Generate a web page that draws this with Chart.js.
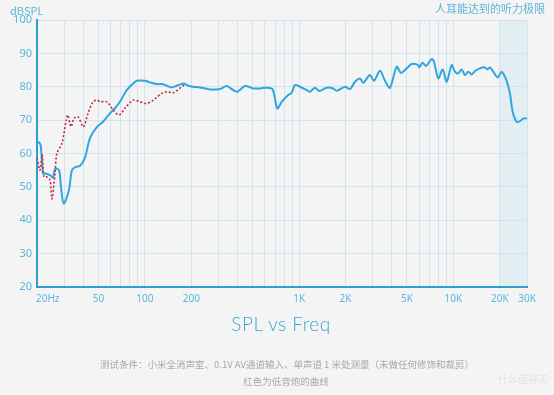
<!DOCTYPE html>
<html>
<head>
<meta charset="utf-8">
<script src="https://cdn.jsdelivr.net/npm/chart.js@4.4.0/dist/chart.umd.min.js"></script>
<style>
  html, body { margin: 0; padding: 0; background: #f4f4f4; }
  #wrap { position: relative; width: 554px; height: 395px; overflow: hidden; font-family: "Noto Sans CJK SC", "Noto Sans", sans-serif; }
  canvas { position: absolute; left: 0; top: 0; }
  .txt { position: absolute; white-space: nowrap; }
</style>
</head>
<body>
<div id="wrap">
  <canvas id="spl" width="554" height="395"></canvas>
  <div class="txt" style="left:10px;top:2px;font-size:11px;color:#5db6d9;">dBSPL</div>
  <div class="txt" style="right:9px;top:0px;font-size:11px;color:#5db6d9;">人耳能达到的听力极限</div>
  <div class="txt" style="left:0;width:562px;text-align:center;top:312px;font-size:19px;color:#3ba5d0;font-family:Lato,'Noto Sans',sans-serif;font-weight:300;letter-spacing:0.5px;">SPL vs Freq</div>
  <div class="txt" style="left:0;width:574px;text-align:center;top:357px;font-size:9.5px;color:#a8a8a8;">测试条件：小米全消声室、0.1V AV通道输入、单声道 1 米处测量（未做任何修饰和裁剪）</div>
  <div class="txt" style="left:0;width:572px;text-align:center;top:374px;font-size:9.5px;color:#a8a8a8;">红色为低音炮的曲线</div>
  <div class="txt" style="left:498px;top:371px;font-size:10px;color:#e2e2e2;">什么值得买</div>
</div>
<script>
// main speaker (blue)
var mainFreq = [20, 20.9, 21.2, 21.9, 22.6, 24.3, 25.4, 26.2, 27.8, 28.6, 29.8, 32.2, 33.7, 35.8, 38.0, 40.9, 44.1, 49.0, 53.6, 59.4,
    64.1, 69.0, 76.3, 84.2, 88.6, 100, 108, 119, 129, 139, 149, 161, 178, 191, 206, 228, 264, 307, 339, 394,
    446, 504, 558, 616, 674, 722, 771, 851, 895, 940, 1013, 1120, 1176, 1267, 1351, 1508, 1664, 1751, 1982, 2136,
    2302, 2480, 2605, 2879, 3056, 3342, 3601, 3880, 4288, 4573, 4980, 5366, 5918, 6008, 6321, 6639, 7228, 7481, 7980, 8522,
    9045, 9745, 10230, 10750, 11310, 11880, 12480, 13130, 13800, 14860, 16010, 16570, 17260, 18130, 19350, 20550, 21590, 22340, 23270, 24220,
    25710, 27000, 28360, 30000];
var mainDb = [63.7, 63, 62, 54, 54, 53.5, 52.8, 55.4, 55, 50, 45, 49, 55, 56, 56.3, 58.7, 64.6, 68, 69.5, 72,
    73.6, 75.5, 79, 81, 81.8, 81.8, 81.3, 80.8, 80.8, 80.3, 79.8, 80.3, 81, 80.3, 80, 79.8, 79.2, 79.3, 80.2, 78.5,
    80.2, 79.5, 79.5, 79.7, 79.2, 73.5, 75.5, 77.5, 78.2, 80.5, 80, 79, 78.5, 79.7, 78.7, 79.7, 79.5, 78.8, 80, 79.3,
    81.5, 82.5, 81.2, 83.5, 81.8, 84.8, 81.8, 79.7, 86, 84.2, 85.5, 86.8, 86.5, 85.8, 87.2, 86.2, 88.3, 87.5, 82.5, 85.2,
    81.5, 86.5, 84.5, 84, 85.2, 83.5, 84.5, 83.7, 84.7, 85.5, 85.8, 85.2, 85.8, 84.5, 82.8, 84.5, 83, 81.2, 78, 72.5,
    69.5, 69.7, 70.5, 70.5];

// subwoofer (red dotted)
var subFreq = [20, 20.9, 21.6, 22.2, 23.2, 24.3, 25.0, 26.2, 26.9, 29.0, 31.6, 33.2, 34.7, 36.9, 39.9, 42.8, 46.1, 49.0, 51.2, 56.6,
    62.5, 68.0, 74.4, 84.2, 93.0, 102.8, 113.4, 128.7, 138.6, 152.9, 169.0, 182.1];
var subDb = [58.6, 55, 59.6, 53, 53, 52, 46.4, 54.2, 60, 63, 71.5, 68, 70.5, 71, 68, 72, 75.5, 76, 75.5, 75.5,
    73, 71.5, 73.6, 76, 75.5, 75, 76, 78, 78.5, 78.2, 79.6, 80.8];

var gridFreq = [20, 30, 40, 50, 60, 70, 80, 90, 100, 200, 300, 400, 500, 600, 700, 800, 900, 1000,
    2000, 3000, 4000, 5000, 6000, 7000, 8000, 9000, 10000, 20000, 30000];
var xLabelVals = [20, 50, 100, 200, 1000, 2000, 5000, 10000, 20000, 30000];
var xLabelText = ["20Hz", "50", "100", "200", "1K", "2K", "5K", "10K", "20K", "30K"];
var yTicks = [20, 30, 40, 50, 60, 70, 80, 90, 100];

function toPoints(fs, ds) {
    var pts = [];
    for (var i = 0; i < fs.length; i++) {
        pts.push({ x: fs[i], y: ds[i] });
    }
    return pts;
}

var blueLine = "#2ea7df";
var axisBlue = "#2f9fc9";
var tickBlue = "#5db6d9";
var gridBlue = "#d0e5f0";

// shaded band 20K-30K, drawn under the grid
var bandPlugin = {
    id: "band",
    beforeDraw: function(chart) {
        var x = chart.scales.x, ca = chart.chartArea, ctx = chart.ctx;
        var x1 = x.getPixelForValue(20000), x2 = x.getPixelForValue(30000);
        ctx.save();
        ctx.fillStyle = "#e3eef2";
        ctx.fillRect(x1, ca.top, x2 - x1, ca.bottom - ca.top);
        ctx.restore();
    }
};

// x labels ("20Hz" sits left aligned on its tick)
var xLabelPlugin = {
    id: "xlabels",
    afterDraw: function(chart) {
        var x = chart.scales.x, ctx = chart.ctx;
        ctx.save();
        ctx.font = "10px 'Noto Sans', sans-serif";
        ctx.fillStyle = tickBlue;
        ctx.textBaseline = "middle";
        for (var i = 0; i < xLabelVals.length; i++) {
            var px = x.getPixelForValue(xLabelVals[i]);
            ctx.textAlign = i === 0 ? "left" : "center";
            ctx.fillText(xLabelText[i], i === 0 ? px - 1 : px, x.top + 12);
        }
        ctx.restore();
    }
};

var ctx = document.getElementById("spl").getContext("2d");
new Chart(ctx, {
    type: "line",
    data: {
        datasets: [
            {
                data: toPoints(subFreq, subDb),
                borderColor: "#c42a3e",
                borderWidth: 1.6,
                borderDash: [2, 2],
                pointRadius: 0,
                tension: 0.3,
                fill: false
            },
            {
                data: toPoints(mainFreq, mainDb),
                borderColor: blueLine,
                borderWidth: 2,
                pointRadius: 0,
                tension: 0.3,
                fill: false
            }
        ]
    },
    options: {
        responsive: false,
        animation: false,
        layout: { padding: { left: 0, right: 27, top: 20, bottom: 88 } },
        plugins: { legend: { display: false }, tooltip: { enabled: false } },
        scales: {
            x: {
                type: "logarithmic",
                min: 20,
                max: 30000,
                afterBuildTicks: function(scale) {
                    scale.ticks = gridFreq.map(function(v) { return { value: v }; });
                },
                afterFit: function(scale) { scale.height = 20; },
                ticks: { display: false },
                grid: { color: gridBlue, lineWidth: 1, drawTicks: false },
                border: { display: true, color: axisBlue, width: 2 }
            },
            y: {
                min: 20,
                max: 100,
                afterBuildTicks: function(scale) {
                    scale.ticks = yTicks.map(function(v) { return { value: v }; });
                },
                afterFit: function(scale) { scale.width = 37; },
                ticks: {
                    color: tickBlue,
                    padding: 5,
                    font: { family: "'Noto Sans', sans-serif", size: 11 }
                },
                grid: { color: gridBlue, lineWidth: 1, drawTicks: false },
                border: { display: true, color: axisBlue, width: 2 }
            }
        }
    },
    plugins: [bandPlugin, xLabelPlugin]
});
</script>
</body>
</html>
